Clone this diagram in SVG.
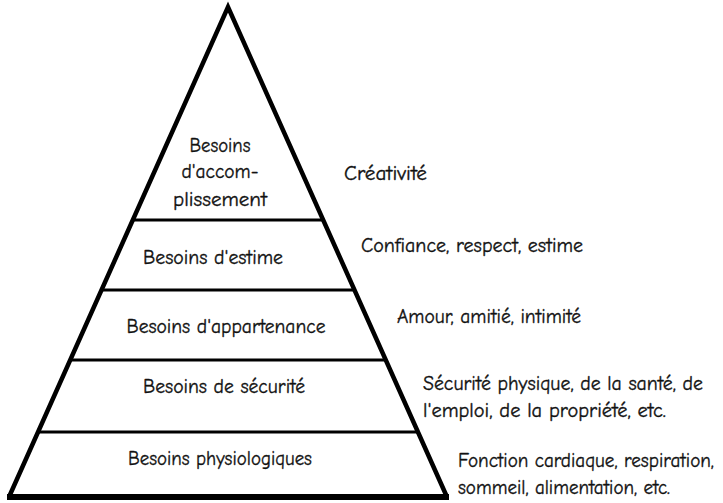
<svg xmlns="http://www.w3.org/2000/svg" width="723" height="503" viewBox="0 0 723 503">
  <style>
    .edge { fill: none; stroke: #000; stroke-linejoin: miter; }
    .tier { stroke: #000; stroke-width: 3; }
    text { font-family: "Comic Sans MS", "Comic Neue", "Liberation Sans", "DejaVu Sans", sans-serif; font-size: 21px; fill: #111; stroke: #111; stroke-width: 0.35; }
    .c { text-anchor: middle; }
  </style>
  <rect width="723" height="503" fill="#fff"/>

  <!-- pyramid outline and tier dividers -->
  <g id="connectors">
    <path class="edge" d="M9,497 L228,7 L447,497" stroke-width="4.5"/>
    <line x1="7" y1="497" x2="449" y2="497" stroke="#000" stroke-width="6"/>
    <line class="tier" x1="133" y1="220" x2="323" y2="220"/>
    <line class="tier" x1="102" y1="290" x2="354" y2="290"/>
    <line class="tier" x1="71" y1="360" x2="385" y2="360"/>
    <line class="tier" x1="38" y1="432" x2="418" y2="432"/>
  </g>

  <g id="tier-accomplissement">
    <text class="c" x="220" y="152" textLength="61" lengthAdjust="spacingAndGlyphs">Besoins</text>
    <text class="c" x="220" y="178" textLength="77" lengthAdjust="spacingAndGlyphs">d'accom-</text>
    <text class="c" x="220" y="206" textLength="94" lengthAdjust="spacingAndGlyphs">plissement</text>
  </g>
  <g id="tier-estime">
    <text class="c" x="213" y="264" textLength="140" lengthAdjust="spacingAndGlyphs">Besoins d'estime</text>
  </g>
  <g id="tier-appartenance">
    <text class="c" x="226" y="333" textLength="199" lengthAdjust="spacingAndGlyphs">Besoins d'appartenance</text>
  </g>
  <g id="tier-securite">
    <text class="c" x="224" y="393" textLength="162" lengthAdjust="spacingAndGlyphs">Besoins de sécurité</text>
  </g>
  <g id="tier-physiologiques">
    <text class="c" x="220" y="465" textLength="184" lengthAdjust="spacingAndGlyphs">Besoins physiologiques</text>
  </g>

  <!-- examples for each tier -->
  <g id="note-accomplissement">
    <text x="344" y="180" textLength="83" lengthAdjust="spacingAndGlyphs">Créativité</text>
  </g>
  <g id="note-estime">
    <text x="361" y="252" textLength="222" lengthAdjust="spacingAndGlyphs">Confiance, respect, estime</text>
  </g>
  <g id="note-appartenance">
    <text x="397" y="323" textLength="184" lengthAdjust="spacingAndGlyphs">Amour, amitié, intimité</text>
  </g>
  <g id="note-securite">
    <text x="423" y="390" textLength="280" lengthAdjust="spacingAndGlyphs">Sécurité physique, de la santé, de</text>
    <text x="423" y="417" textLength="243" lengthAdjust="spacingAndGlyphs">l'emploi, de la propriété, etc.</text>
  </g>
  <g id="note-physiologiques">
    <text x="458" y="467" textLength="256" lengthAdjust="spacingAndGlyphs">Fonction cardiaque, respiration,</text>
    <text x="458" y="494" textLength="212" lengthAdjust="spacingAndGlyphs">sommeil, alimentation, etc.</text>
  </g>
</svg>
